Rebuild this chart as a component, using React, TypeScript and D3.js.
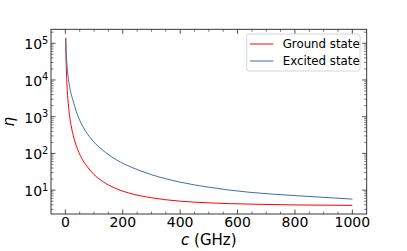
import React from 'react';
import * as d3 from 'd3';

const W = 407;
const H = 251;
const plot = { left: 51, top: 29.3, right: 366.7, bottom: 214 };

// Data (c in GHz, eta)
const groundC = [1.3, 2, 3, 5, 7, 10, 15, 20, 30, 45, 60, 80, 100, 130, 170, 220, 300, 400, 500, 650, 800, 1000];
const groundEta = [1.4e5, 5.8e4, 2.6e4, 9300, 4700, 2300, 1030, 580, 260, 117, 67, 40, 26.6, 17.2, 11.6, 8.4, 6.2, 5.0, 4.5, 4.15, 3.95, 3.85];
const excitedC = [1.3, 2, 3, 5, 7, 10, 14, 20, 26, 40, 55, 77, 104, 140, 179, 230, 296, 400, 500, 644, 800, 1000];
const excitedEta = [1.4e5, 8.9e4, 5.6e4, 3.0e4, 1.93e4, 1.17e4, 7200, 4220, 2900, 1250, 665, 340, 188, 106, 66, 42, 27, 16.5, 12, 8.7, 7.1, 5.7];

const xTicks = [0, 200, 400, 600, 800, 1000];
const yDecades = [1, 2, 3, 4, 5];
const seriesNames = ['Ground state', 'Excited state'];
const seriesColors = ['#ff0000', '#3b6fa6'];

const FONT = 'DejaVu Sans, sans-serif';

export default function App() {
  const x = d3.scaleLinear().domain([-50, 1050]).range([plot.left, plot.right]);
  const y = d3.scaleLog().domain([Math.pow(10, 0.35), Math.pow(10, 5.38)]).range([plot.bottom, plot.top]);

  const line = d3
    .line<[number, number]>()
    .x((d) => x(d[0]))
    .y((d) => y(d[1]))
    .curve(d3.curveMonotoneX);

  const ground = groundC.map((c, i) => [c, groundEta[i]] as [number, number]);
  const excited = excitedC.map((c, i) => [c, excitedEta[i]] as [number, number]);

  const xMinor: number[] = [];
  for (let v = 50; v < 1050; v += 50) if (v % 200 !== 0) xMinor.push(v);

  const [d0, d1] = y.domain();
  const yMinor: number[] = [];
  for (let d = 0; d <= 5; d++) {
    for (let k = 2; k <= 9; k++) {
      const v = k * Math.pow(10, d);
      if (v >= d0 && v <= d1) yMinor.push(v);
    }
  }

  const majL = 4.5;
  const minL = 2.5;
  const tickStroke = '#222';

  return (
    <svg width={W} height={H} style={{ position: 'absolute', left: 0, top: 0 }}>
      <rect x={0} y={0} width={W} height={H} fill="white" />
      <defs>
        <clipPath id="clip">
          <rect x={plot.left} y={plot.top} width={plot.right - plot.left} height={plot.bottom - plot.top} />
        </clipPath>
      </defs>

      {/* curves */}
      <g clipPath="url(#clip)">
        <path d={line(ground) || ''} fill="none" stroke={seriesColors[0]} strokeWidth={1} />
        <path d={line(excited) || ''} fill="none" stroke={seriesColors[1]} strokeWidth={1} />
      </g>

      {/* x ticks bottom and top */}
      {xTicks.map((t) => (
        <g key={'xt' + t}>
          <line x1={x(t)} x2={x(t)} y1={plot.bottom} y2={plot.bottom - majL} stroke={tickStroke} strokeWidth={0.8} />
          <line x1={x(t)} x2={x(t)} y1={plot.top} y2={plot.top + majL} stroke={tickStroke} strokeWidth={0.8} />
          <text x={x(t)} y={227.3} textAnchor="middle" fontFamily={FONT} fontSize={14} fill="#000">
            {t}
          </text>
        </g>
      ))}
      {xMinor.map((t) => (
        <g key={'xm' + t}>
          <line x1={x(t)} x2={x(t)} y1={plot.bottom} y2={plot.bottom - minL} stroke={tickStroke} strokeWidth={0.6} />
          <line x1={x(t)} x2={x(t)} y1={plot.top} y2={plot.top + minL} stroke={tickStroke} strokeWidth={0.6} />
        </g>
      ))}

      {/* y ticks left and right */}
      {yDecades.map((d) => {
        const yy = y(Math.pow(10, d));
        return (
          <g key={'yt' + d}>
            <line x1={plot.left} x2={plot.left + majL} y1={yy} y2={yy} stroke={tickStroke} strokeWidth={0.8} />
            <line x1={plot.right} x2={plot.right - majL} y1={yy} y2={yy} stroke={tickStroke} strokeWidth={0.8} />
            <text x={48.3} y={yy + 6} textAnchor="end" fontFamily={FONT} fontSize={14} fill="#000">
              <tspan>10</tspan>
              <tspan dy={-5.5} fontSize={9.8}>{d}</tspan>
            </text>
          </g>
        );
      })}
      {yMinor.map((v) => (
        <g key={'ym' + v}>
          <line x1={plot.left} x2={plot.left + minL} y1={y(v)} y2={y(v)} stroke={tickStroke} strokeWidth={0.6} />
          <line x1={plot.right} x2={plot.right - minL} y1={y(v)} y2={y(v)} stroke={tickStroke} strokeWidth={0.6} />
        </g>
      ))}

      {/* frame */}
      <rect
        x={plot.left}
        y={plot.top}
        width={plot.right - plot.left}
        height={plot.bottom - plot.top}
        fill="none"
        stroke="#222"
        strokeWidth={0.9}
      />

      {/* axis labels */}
      <text x={(plot.left + plot.right) / 2} y={245} textAnchor="middle" fontFamily={FONT} fontSize={15} fill="#000">
        <tspan fontStyle="italic">c</tspan>
        <tspan> (GHz)</tspan>
      </text>
      <text
        transform={`translate(${14}, ${(plot.top + plot.bottom) / 2}) rotate(-90)`}
        textAnchor="middle"
        fontFamily={FONT}
        fontSize={15}
        fontStyle="italic"
        fill="#000"
      >
        η
      </text>

      {/* legend */}
      <rect x={246.7} y={34} width={113.3} height={37} rx={2.5} fill="white" fillOpacity={0.8} stroke="#cccccc" strokeWidth={0.8} />
      {seriesNames.map((name, i) => {
        const cy = 44 + i * 17;
        return (
          <g key={name}>
            <line x1={250} x2={273.3} y1={cy} y2={cy} stroke={seriesColors[i]} strokeWidth={1} />
            <text x={282.7} y={cy + 4.3} fontFamily={FONT} fontSize={11.8} fill="#000">
              {name}
            </text>
          </g>
        );
      })}
    </svg>
  );
}
